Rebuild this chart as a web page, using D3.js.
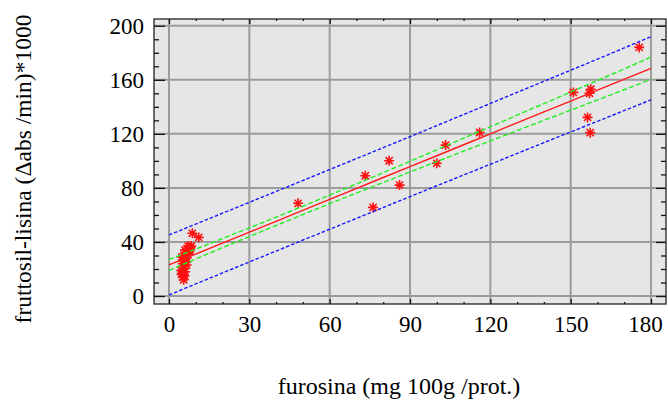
<!DOCTYPE html>
<html>
<head>
<meta charset="utf-8">
<script src="https://cdn.jsdelivr.net/npm/d3@7"></script>
<style>
    body { margin: 0; background: #fff; }
    svg text { font-family: "Liberation Serif", "Times New Roman", Times, serif; fill: #000; }
</style>
</head>
<body>
<svg id="chart" width="668" height="400"></svg>
<script>
// samples: furosina (x) vs fruttosil-lisina (y)
const furosina = [5.5, 5.2, 5.8, 5.0, 6.0, 5.4, 5.7, 5.1, 6.3, 5.9, 6.5, 5.6, 7.0, 6.2, 7.5, 6.8, 8.0, 7.2, 6.0, 5.3,
    4.6, 4.8, 7.8, 8.3, 6.6, 4.7,
    8.7, 11.1, 48.2, 73.3, 76.2, 82.2, 86.1, 100.0, 103.3, 116.0, 151.0, 157.0, 157.5, 156.3, 157.3, 175.6];
const fruttosil = [12, 14, 15, 17, 18, 20, 22, 24, 25, 27, 28, 30, 31, 32, 33, 35, 36, 37, 34, 26,
    19, 29, 34, 37, 23, 16,
    46.4, 43.4, 68.6, 89.0, 65.6, 100.1, 82.1, 98.2, 111.7, 121.0, 150.7, 150.0, 153.0, 132.2, 120.9, 184.0];

// regression line with confidence and prediction limits, read at these x
const bandX = [0, 20, 40, 60, 80, 100, 120, 140, 160, 180];
const fitY = [23.0, 39.2, 55.3, 71.5, 87.7, 103.8, 120.0, 136.2, 152.3, 168.5];
const confHigh = [27.0, 42.6, 58.4, 74.7, 91.3, 108.2, 125.3, 142.4, 159.5, 176.8];
const confLow = [19.0, 35.8, 52.2, 68.3, 84.0, 99.5, 114.8, 130.0, 145.1, 160.3];
const predHigh = [45.2, 61.3, 77.4, 93.6, 109.8, 126.1, 142.5, 158.9, 175.3, 191.9];
const predLow = [0.8, 17.1, 33.3, 49.4, 65.5, 81.6, 97.5, 113.5, 129.3, 145.2];

const xTicks = [0, 30, 60, 90, 120, 150, 180];
const yTicks = [0, 40, 80, 120, 160, 200];

const xTitle = "furosina (mg 100g /prot.)";
const yTitle = "fruttosil-lisina (\u0394abs /min)*1000";

const serif = '"Liberation Serif", "Times New Roman", Times, serif';

const plot = {
    frame: { left: 154, right: 666, top: 19, bottom: 304 },

    star: function (cx, cy, r) {
        let d = r * 0.72;
        return "M" + (cx - r) + "," + cy + "L" + (cx + r) + "," + cy +
            "M" + cx + "," + (cy - r) + "L" + cx + "," + (cy + r) +
            "M" + (cx - d) + "," + (cy - d) + "L" + (cx + d) + "," + (cy + d) +
            "M" + (cx - d) + "," + (cy + d) + "L" + (cx + d) + "," + (cy - d);
    },

    draw: function () {
        let f = this.frame;
        let svg = d3.select("#chart");

        let x = d3.scaleLinear().domain([-5.6, 185.6]).range([f.left, f.right]);
        let y = d3.scaleLinear().domain([-5.9, 205]).range([f.bottom, f.top]);

        svg.append("rect")
            .attr("x", f.left).attr("y", f.top)
            .attr("width", f.right - f.left).attr("height", f.bottom - f.top)
            .style("fill", "#e6e6e6");

        // grid
        let grid = svg.append("g").style("stroke", "#9c9c9c").style("stroke-width", 2);
        grid.selectAll(".gx").data(xTicks).enter().append("line")
            .attr("x1", d => x(d)).attr("x2", d => x(d))
            .attr("y1", f.top).attr("y2", f.bottom);
        grid.selectAll(".gy").data(yTicks).enter().append("line")
            .attr("y1", d => y(d)).attr("y2", d => y(d))
            .attr("x1", f.left).attr("x2", f.right);

        // inward ticks on all four sides
        let xMinor = d3.range(0, 181, 10).filter(v => xTicks.indexOf(v) < 0);
        let yMinor = d3.range(0, 201, 10).filter(v => yTicks.indexOf(v) < 0);

        let addAxis = (axis, tx, ty) => {
            let g = svg.append("g")
                .attr("transform", "translate(" + tx + "," + ty + ")")
                .call(axis)
                .attr("font-family", serif)
                .attr("font-size", 23);
            g.select(".domain").remove();
            g.selectAll("line").style("stroke", "#111").style("stroke-width", 1.3);
            g.selectAll("text")
                .style("font-family", serif)
                .style("font-size", "23px")
                .style("fill", "#000");
            return g;
        };

        addAxis(d3.axisLeft(y).tickValues(yTicks).tickSize(-11).tickPadding(10), f.left, 0);
        addAxis(d3.axisLeft(y).tickValues(yMinor).tickSize(-5).tickFormat(""), f.left, 0);
        addAxis(d3.axisRight(y).tickValues(yTicks).tickSize(-10).tickFormat(""), f.right, 0);
        addAxis(d3.axisRight(y).tickValues(yMinor).tickSize(-5).tickFormat(""), f.right, 0);
        let bottom = addAxis(d3.axisBottom(x).tickValues(xTicks).tickSize(-5).tickPadding(12), 0, f.bottom);
        addAxis(d3.axisBottom(x).tickValues(xMinor).tickSize(-2).tickFormat(""), 0, f.bottom);
        addAxis(d3.axisTop(x).tickValues(xTicks).tickSize(-5).tickFormat(""), 0, f.top);
        addAxis(d3.axisTop(x).tickValues(xMinor).tickSize(-2).tickFormat(""), 0, f.top);

        // last label is pulled in so it stays inside the picture
        bottom.selectAll("text").filter(d => d === 180).attr("dx", -6);

        svg.append("rect")
            .attr("x", f.left).attr("y", f.top)
            .attr("width", f.right - f.left).attr("height", f.bottom - f.top)
            .style("fill", "none").style("stroke", "#222").style("stroke-width", 1.3);

        // points
        let points = furosina.map((v, i) => ({ x: v, y: fruttosil[i] }));
        svg.append("g").selectAll("path")
            .data(points)
            .enter()
            .append("path")
            .attr("d", d => this.star(x(d.x), y(d.y), 5))
            .style("fill", "none")
            .style("stroke", "#ff1010")
            .style("stroke-width", 1.6);

        // fit and limits
        let lineOf = values => d3.line()
            .x((d, i) => x(bandX[i]))
            .y(d => y(d))
            .curve(d3.curveMonotoneX)(values);

        let lines = [
            { values: predHigh, color: "#1a1aff", dash: "3.5,2" },
            { values: predLow, color: "#1a1aff", dash: "3.5,2" },
            { values: confHigh, color: "#22ee22", dash: "5,2.5" },
            { values: confLow, color: "#22ee22", dash: "5,2.5" },
            { values: fitY, color: "#ff1a1a", dash: null }
        ];
        svg.append("g").selectAll("path")
            .data(lines)
            .enter()
            .append("path")
            .attr("d", d => lineOf(d.values))
            .style("fill", "none")
            .style("stroke", d => d.color)
            .style("stroke-width", 1.4)
            .style("stroke-dasharray", d => d.dash);

        // titles
        svg.append("text")
            .attr("x", 399).attr("y", 394)
            .attr("text-anchor", "middle")
            .style("font-family", serif)
            .style("font-size", "24px")
            .text(xTitle);

        svg.append("text")
            .attr("transform", "translate(31,169) rotate(-90)")
            .attr("text-anchor", "middle")
            .style("font-family", serif)
            .style("font-size", "23.5px")
            .text(yTitle);
    }
};

plot.draw();
</script>
</body>
</html>
